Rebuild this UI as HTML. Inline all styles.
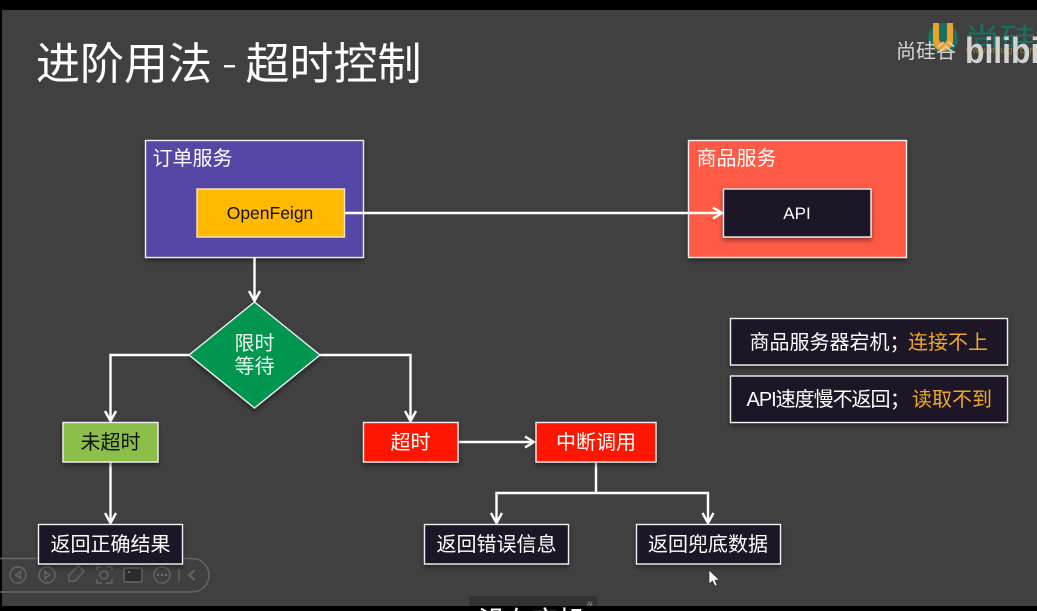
<!DOCTYPE html>
<html lang="zh">
<head>
<meta charset="utf-8">
<title>进阶用法 - 超时控制</title>
<style>
html,body{margin:0;padding:0;background:#000;width:1037px;height:611px;overflow:hidden}
svg{display:block;filter:blur(.35px)}
text{font-family:"Liberation Sans","Noto Sans CJK SC",sans-serif}
.c{text-anchor:middle}
.w{fill:#fff}
.ln{fill:none;stroke:#fff;stroke-width:2.4}
.ah{fill:none;stroke:#fff;stroke-width:2.4}
.box{stroke:#f2eef2;stroke-width:1.4;filter:url(#sh)}
.tb{fill:none;stroke:#666;stroke-width:1.4}
</style>
</head>
<body>
<svg width="1037" height="611" viewBox="0 0 1037 611" xmlns="http://www.w3.org/2000/svg">
<defs>
<filter id="sh" x="-20%" y="-20%" width="140%" height="150%"><feDropShadow dx="0" dy="2.500" stdDeviation="2.500" flood-color="#000" flood-opacity=".45"/></filter>
</defs>
<rect width="1037" height="611" fill="#000"/>
<rect x="2" y="10" width="1035" height="596" fill="#404040"/>

<text x="36" y="79" font-size="44" class="w">进阶用法</text>
<rect x="224" y="65" width="11" height="2.500" fill="#f4f4f4"/>
<text x="245.500" y="79" font-size="44" class="w">超时控制</text>

<!-- logo -->
<circle cx="943" cy="38" r="15" fill="#1a7062"/>
<path d="M933 23h6v16a4 4 0 0 0 8 0V23h6v17c0 7-4 11-10 11s-10-4-10-11z" fill="#eda125"/>
<text x="964" y="48" font-size="28" fill="#1a7062" textLength="108" lengthAdjust="spacingAndGlyphs">尚硅谷</text>
<text x="966" y="53" font-size="9" fill="#a9782a" textLength="71">www.atguigu.com</text>
<text x="896" y="58" font-size="20" fill="#d6d6d6" textLength="60">尚硅谷</text>
<text x="965" y="63" font-size="36" font-weight="700" fill="#d2d2d2" textLength="92" lengthAdjust="spacingAndGlyphs">bilibili</text>

<!-- services -->
<rect x="145.500" y="140.500" width="218" height="117" fill="#5747a6" class="box"/>
<text x="152.500" y="165" font-size="20" class="w">订单服务</text>
<rect x="197" y="189" width="147.500" height="48" fill="#ffb900" stroke="#f7e9c0" stroke-width="1.400"/>
<text x="270" y="219" font-size="17.500" class="c" fill="#111">OpenFeign</text>

<rect x="688.500" y="140.500" width="218" height="117" fill="#ff5a45" class="box"/>
<text x="696.500" y="165" font-size="20" class="w">商品服务</text>
<rect x="723.500" y="189" width="147.500" height="48" fill="#1e1228" class="box"/>
<text x="797" y="219" font-size="17" class="c w">API</text>

<!-- connectors -->
<path class="ln" d="M344 213H722"/>
<path class="ah" d="M713 207.500L722 213L713 218.500"/>
<path class="ln" d="M254.500 257V301"/>
<path class="ah" d="M249 291L254.500 301L260 291"/>
<path class="ln" d="M190 355H110.500V421"/>
<path class="ah" d="M105 411L110.500 421L116 411"/>
<path class="ln" d="M319 355H410.500V421"/>
<path class="ah" d="M405 411L410.500 421L416 411"/>
<path class="ln" d="M110.500 462V523"/>
<path class="ah" d="M105 513L110.500 523L116 513"/>
<path class="ln" d="M458 442H534"/>
<path class="ah" d="M525 436.500L534 442L525 447.500"/>
<path class="ln" d="M596 462V493"/>
<path class="ln" d="M496.500 523V493H708V523"/>
<path class="ah" d="M491 513L496.500 523L502 513"/>
<path class="ah" d="M702.500 513L708 523L713.500 513"/>

<!-- decision -->
<polygon points="254.500,302 320,355 254.500,408 189,355" fill="#00964f" class="box"/>
<text x="254.500" y="350" font-size="20" class="c" fill="#f0f8f0">限时</text>
<text x="254.500" y="373" font-size="20" class="c" fill="#f0f8f0">等待</text>

<!-- nodes -->
<rect x="63" y="422.500" width="95" height="39.500" fill="#8bbf4a" class="box"/>
<text x="110.500" y="449" font-size="20" class="c" fill="#111">未超时</text>
<rect x="363.500" y="422.500" width="94.500" height="39.500" fill="#ff1700" class="box"/>
<text x="410.500" y="449" font-size="20" class="c w">超时</text>
<rect x="536" y="422.500" width="120" height="39.500" fill="#ff1700" class="box"/>
<text x="596" y="449" font-size="20" class="c w">中断调用</text>

<!-- toolbar -->
<rect x="-20" y="558.500" width="229" height="33.500" rx="17" class="tb"/>
<g class="tb">
<circle cx="18" cy="575" r="8"/><path d="M20.500 571.500L15.500 575L20.500 578.500Z"/>
<circle cx="47" cy="575" r="8"/><path d="M45 571.500L50 575L45 578.500Z"/>
<path d="M69 581L69 575L78 566L84 571L75 581Z"/>
<circle cx="104" cy="575" r="4"/>
<path d="M97 570V567H102M106 567H112V570M112 579V583H106M102 583H97V579"/>
<rect x="124" y="568" width="18" height="14" rx="2" fill="#2c2c2c"/>
<circle cx="162" cy="575" r="8"/>
<path d="M195 570L189 575L195 580" stroke-width="2"/>
<path d="M179 569V581"/>
</g>
<circle cx="129" cy="572" r="1" fill="#888"/>
<g fill="#808080"><circle cx="158" cy="575" r="1"/><circle cx="162" cy="575" r="1"/><circle cx="166" cy="575" r="1"/></g>

<!-- bottom result boxes -->
<rect x="38.500" y="524.500" width="144" height="39.500" fill="#1e1228" class="box"/>
<text x="110.500" y="551" font-size="20" class="c w">返回正确结果</text>
<rect x="424.500" y="524.500" width="144" height="39.500" fill="#1e1228" class="box"/>
<text x="496.500" y="551" font-size="20" class="c w">返回错误信息</text>
<rect x="636.500" y="524.500" width="144" height="39.500" fill="#1e1228" class="box"/>
<text x="708" y="551" font-size="20" class="c w">返回兜底数据</text>

<!-- notes -->
<rect x="730.500" y="318.500" width="277" height="46.500" fill="#1e1228" class="box"/>
<text x="749.500" y="349" font-size="20" class="w">商品服务器宕机；</text>
<text x="908" y="349" font-size="20" fill="#f0a828">连接不上</text>
<rect x="730.500" y="376" width="277" height="46.500" fill="#1e1228" class="box"/>
<text x="746.500" y="406" font-size="20" class="w" textLength="144">API速度慢不返回</text>
<text x="890" y="406" font-size="20" class="w">；</text>
<text x="912" y="406" font-size="20" fill="#f0a828">读取不到</text>

<!-- cursor -->
<path d="M709 570V584L712.500 581L715 586L717 585L715 580H719.500Z" fill="#fff" stroke="#222" stroke-width=".6"/>

<!-- subtitle -->
<rect x="469" y="596" width="128" height="12" rx="2" fill="#333"/>
<text x="587" y="606" font-size="6" fill="#aaa">AI</text>
<rect x="0" y="606" width="1037" height="5" fill="#000"/>
<text x="478" y="632" font-size="29" class="w" textLength="108">没有宕机</text>
</svg>
</body>
</html>
